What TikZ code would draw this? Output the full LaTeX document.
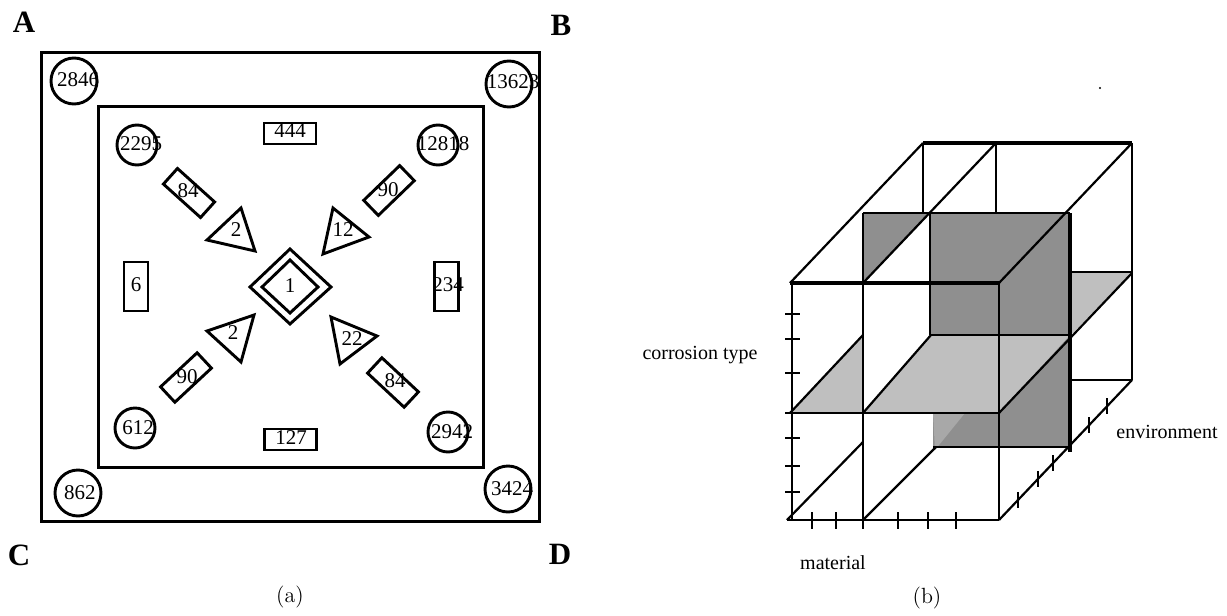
\documentclass[tikz,border=0pt]{standalone}
\usepackage{fontspec}
\usetikzlibrary{calc}
\newfontfamily\tms{Liberation Serif}
\definecolor{dkgray}{gray}{0.56}
\definecolor{ltgray}{gray}{0.75}
\definecolor{mdgray}{gray}{0.66}
\begin{document}
\begin{tikzpicture}[x=0.5pt,y=-0.5pt,
  frame/.style={draw,line width=1.5pt},
  ring/.style={circle,draw,line width=1.45pt,inner sep=0pt},
  bigring/.style={ring,minimum size=23pt},
  smallring/.style={ring,minimum size=20pt},
  num/.style={inner sep=0pt,font=\tms\fontsize{10.5}{12}\selectfont},
  tag/.style={inner sep=0pt,font=\tms\bfseries\fontsize{15.5}{18}\selectfont},
  captext/.style={inner sep=0pt,font=\fontsize{11}{13}\selectfont},
  axislabel/.style={inner sep=0pt,font=\tms\fontsize{10}{12}\selectfont},
  numbox/.style={draw,line width=1.45pt,inner sep=0pt},
  flatbox/.style={numbox,minimum width=26pt,minimum height=10.5pt},
  tallbox/.style={numbox,minimum width=12pt,minimum height=24.5pt},
  slantbox/.style={numbox,minimum width=25pt,minimum height=10.5pt},
  tri/.style={line width=1.45pt,line join=miter},
  gridline/.style={line width=1.1pt},
  heavyline/.style={line width=1.6pt},
]
\useasboundingbox (0,0) rectangle (1227,616);

% ---------------- (a) nested squares ----------------
\draw[frame] (41,52) rectangle (539,521);
\draw[frame] (98,106) rectangle (483,467);

\node[tag] (lA) at (24,22) {A};
\node[tag] (lB) at (561,25) {B};
\node[tag] (lC) at (19,555) {C};
\node[tag] (lD) at (560,554) {D};

% corner circles
\node[bigring] (c2846) at (74,81) {};
\node[num] (t2846) at (78,80) {2846};
\node[bigring] (c13623) at (509,84) {};
\node[num] (t13623) at (513,82) {13623};
\node[bigring] (c862) at (78,493) {};
\node[num] (t862) at (80,493) {862};
\node[bigring] (c3424) at (508,489) {};
\node[num] (t3424) at (512,489) {3424};

\node[smallring] (c2295) at (137,145) {};
\node[num] (t2295) at (141,144) {2295};
\node[smallring] (c12818) at (438,145) {};
\node[num] (t12818) at (443,144) {12818};
\node[smallring] (c612) at (135,428) {};
\node[num] (t612) at (138,428) {612};
\node[smallring] (c2942) at (448,432) {};
\node[num] (t2942) at (452,432) {2942};

% axis-aligned boxes
\node[flatbox] (b444) at (290,133.5) {};
\node[num] (t444) at (290,131) {444};
\node[flatbox] (b127) at (290.5,439.5) {};
\node[num] (t127) at (291,438) {127};
\node[tallbox] (b6) at (136,286.5) {};
\node[num] (t6) at (136,285) {6};
\node[tallbox] (b234) at (446.5,286.5) {};
\node[num] (t234) at (448,285) {234};

% slanted boxes
\node[slantbox,rotate=-42] (s84a) at (189,193) {};
\node[num] (t84a) at (188,191) {84};
\node[slantbox,rotate=44] (s90a) at (389,190.5) {};
\node[num] (t90a) at (388,190) {90};
\node[slantbox,rotate=43] (s90b) at (186,377.5) {};
\node[num] (t90b) at (187,377) {90};
\node[slantbox,rotate=-43] (s84b) at (393,382.5) {};
\node[num] (t84b) at (395,381) {84};

% triangles
\draw[tri] (207,240) -- (241,208) -- (255,251) -- cycle;
\node[num] (tr1) at (236,230) {2};
\draw[tri] (333,208) -- (369,237) -- (323,254) -- cycle;
\node[num] (tr2) at (343,230) {12};
\draw[tri] (207,331) -- (254,315) -- (241,362) -- cycle;
\node[num] (tr3) at (233,333) {2};
\draw[tri] (331,317) -- (377,336) -- (340,364) -- cycle;
\node[num] (tr4) at (352,339) {22};

% centre double diamond
\draw[tri] (250,287) -- (290,249) -- (331,287) -- (290,324) -- cycle;
\draw[tri] (262,287) -- (290,260) -- (318,287) -- (290,313) -- cycle;
\node[num] (t1) at (290,286) {1};

\node[captext] (capa) at (290,597) {(a)};

% ---------------- (b) cube of cells ----------------
% shaded faces
\fill[dkgray] (863,213) -- (930,213) -- (863,283) -- cycle;
\fill[dkgray] (930,213) rectangle (1070,335);
\fill[dkgray] (999,335) -- (1070,335) -- (1070,447) -- (933,447) -- (933,413) -- (999,413) -- cycle;
\fill[ltgray] (790,413) -- (863,335) -- (863,413) -- cycle;
\fill[ltgray] (863,413) -- (931,335) -- (1070,335) -- (999,413) -- cycle;
\fill[ltgray] (1070,272) -- (1132,272) -- (1070,336) -- cycle;
\fill[mdgray] (933,413) -- (965,413) -- (935,450) -- cycle;

% outline of the block
\draw[heavyline] (790,283) -- (999,283);
\draw[heavyline] (923,143) -- (1132,143);
\draw[gridline] (790,283) -- (923,143);
\draw[gridline] (863,283) -- (996,143);
\draw[gridline] (999,283) -- (1132,143);
\draw[gridline] (923,143) -- (923,213);
\draw[gridline] (996,143) -- (996,213);
\draw[gridline] (1132,143) -- (1132,380);
\draw[gridline] (1070,380) -- (1132,380);
\draw[gridline] (1070,272) -- (1132,272);
\draw[gridline] (999,413) -- (1132,273);
\draw[gridline] (863,213) -- (1070,213);
\draw[heavyline] (1070,213) -- (1070,452);
\draw[gridline] (863,213) -- (863,520);
\draw[gridline] (930,213) -- (930,335);
\draw[gridline] (930,335) -- (1070,335);
\draw[gridline] (785,413) -- (999,413);
\draw[gridline] (790,413) -- (863,335);
\draw[gridline] (863,413) -- (931,335);
\draw[gridline] (933,447) -- (1070,447);
\draw[gridline] (999,283) -- (999,520);
\draw[gridline] (792,283) -- (792,520);
\draw[gridline] (787,520) -- (999,520);
\draw[gridline] (787,520) -- (863,442);
\draw[gridline] (863,520) -- (936,447);
\draw[gridline] (999,520) -- (1132,380);

% ticks: corrosion type
\foreach \ty in {314,339,373,438,466,492}
  \draw[gridline] (785,\ty) -- (800,\ty);
% ticks: material
\foreach \tx in {812,836,863,898,928,956}
  \draw[gridline] (\tx,512) -- (\tx,529);
% ticks: environment
\foreach \t in {0.143,0.293,0.406,0.677,0.812}
  \draw[gridline] ($(999,520)!\t!(1132,380)+(0,-8)$) -- ++(0,16);

\node[axislabel] (lct) at (700,355) {corrosion type};
\node[axislabel] (lmat) at (833,563) {material};
\node[axislabel] (lenv) at (1167,432) {environment};
\node[captext] (capb) at (927,598) {(b)};
\fill (1100,88) circle (0.6pt);
\end{tikzpicture}
\end{document}
